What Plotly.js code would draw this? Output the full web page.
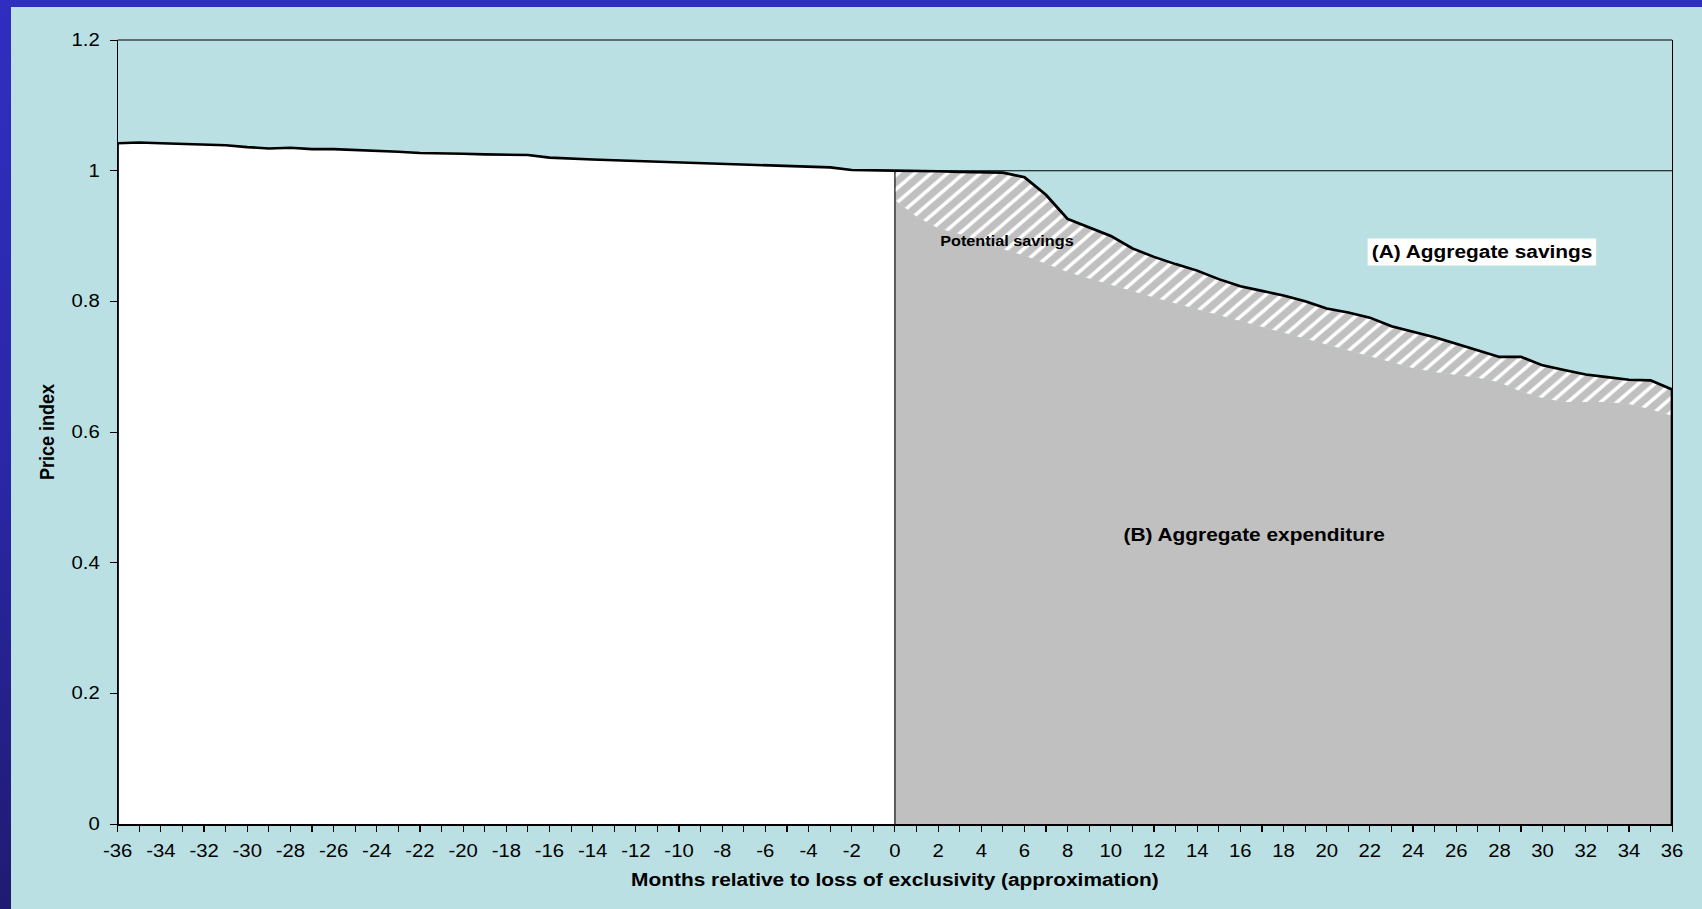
<!DOCTYPE html>
<html>
<head>
<meta charset="utf-8">
<script src="https://cdn.plot.ly/plotly-3.0.1.min.js"></script>
<style>
  html, body { margin: 0; padding: 0; width: 1702px; height: 909px; overflow: hidden; }
  body { background: linear-gradient(to bottom, #302EC0 0%, #2A27A8 50%, #1F1B72 100%); position: relative; }
  #wrap { position: absolute; left: 11px; top: 7px; width: 1691px; height: 902px; background: #BAE0E3; overflow: hidden; }
  #chart { position: absolute; left: 0; top: 0; width: 1458px; height: 902px; transform: scaleX(1.16); transform-origin: 0 0; }
</style>
</head>
<body>
<div id="wrap"><div id="chart"></div></div>
<script>
// Months before loss of exclusivity
const monthsBefore = [-36,-35,-34,-33,-32,-31,-30,-29,-28,-27,-26,-25,-24,-23,-22,-21,-20,-19,-18,-17,-16,-15,-14,-13,-12,-11,-10,-9,-8,-7,-6,-5,-4,-3,-2,-1,0];
const priceBefore = [1.042,1.043,1.042,1.041,1.040,1.039,1.036,1.034,1.035,1.033,1.033,1.032,1.031,1.029,1.027,1.027,1.026,1.025,1.025,1.024,1.020,1.018,1.017,1.016,1.015,1.014,1.012,1.011,1.011,1.010,1.009,1.008,1.007,1.005,1.001,1.001,1.000];

// Months after loss of exclusivity
const monthsAfter = [0,1,2,3,4,5,6,7,8,9,10,11,12,13,14,15,16,17,18,19,20,21,22,23,24,25,26,27,28,29,30,31,32,33,34,35,36];
const priceAfter = [1.000,1.000,0.999,0.998,0.997,0.997,0.990,0.963,0.926,0.913,0.900,0.881,0.868,0.857,0.847,0.834,0.823,0.816,0.809,0.800,0.789,0.783,0.775,0.762,0.754,0.745,0.735,0.725,0.715,0.715,0.702,0.695,0.688,0.684,0.680,0.679,0.665];
const potentialPrice = [0.955,0.930,0.912,0.903,0.892,0.880,0.870,0.858,0.845,0.835,0.826,0.816,0.806,0.797,0.789,0.780,0.771,0.762,0.753,0.744,0.735,0.726,0.716,0.707,0.698,0.692,0.688,0.683,0.676,0.662,0.652,0.646,0.646,0.646,0.643,0.635,0.625];

// Axis ticks
const xTickVals = [-36,-34,-32,-30,-28,-26,-24,-22,-20,-18,-16,-14,-12,-10,-8,-6,-4,-2,0,2,4,6,8,10,12,14,16,18,20,22,24,26,28,30,32,34,36];
const xTickText = ['-36','-34','-32','-30','-28','-26','-24','-22','-20','-18','-16','-14','-12','-10','-8','-6','-4','-2','0','2','4','6','8','10','12','14','16','18','20','22','24','26','28','30','32','34','36'];
const yTickVals = [0, 0.2, 0.4, 0.6, 0.8, 1, 1.2];
const yTickText = ['0', '0.2', '0.4', '0.6', '0.8', '1', '1.2'];

const bg = '#BAE0E3';
const grey = '#C0C0C0';
const font = 'Liberation Sans, Arial, sans-serif';

const firstX = monthsBefore[0];
const lastX = monthsAfter[monthsAfter.length - 1];
const lossX = monthsAfter[0];

const traces = [
  { x: monthsBefore, y: priceBefore, type: 'scatter', mode: 'lines', fill: 'tozeroy', fillcolor: '#FFFFFF',
    line: { color: '#000000', width: 2.6 }, hoverinfo: 'skip', showlegend: false },
  { x: monthsAfter, y: potentialPrice, type: 'scatter', mode: 'lines', fill: 'tozeroy', fillcolor: grey,
    line: { color: grey, width: 0 }, hoverinfo: 'skip', showlegend: false },
  { x: monthsAfter, y: priceAfter, type: 'scatter', mode: 'lines', fill: 'tonexty',
    fillpattern: { shape: '/', bgcolor: grey, fgcolor: '#FFFFFF', size: 10, solidity: 0.32 },
    line: { color: '#000000', width: 2.6 }, hoverinfo: 'skip', showlegend: false }
];

const layout = {
  width: 1458, height: 902,
  margin: { l: 92, r: 26, t: 32.5, b: 85.3, pad: 0 },
  paper_bgcolor: bg, plot_bgcolor: bg,
  font: { family: font, color: '#000000', size: 17.5 },
  showlegend: false,
  xaxis: {
    range: [firstX, lastX], tickvals: xTickVals, ticktext: xTickText, showgrid: false, zeroline: false,
    ticks: 'outside', ticklen: 6, tickwidth: 1, tickcolor: '#000000', ticklabelstandoff: 4,
    minor: { dtick: 1, ticks: 'outside', ticklen: 6, tickwidth: 1, tickcolor: '#000000', showgrid: false },
    showline: true, linecolor: '#000000', linewidth: 2, mirror: false,
    tickfont: { family: font, size: 17.5, color: '#000000' },
    title: { text: 'Months relative to loss of exclusivity (approximation)', font: { family: font, size: 18, color: '#000000', weight: 'bold' }, standoff: 13 },
    automargin: false, fixedrange: true
  },
  yaxis: {
    range: [0, 1.2], tickvals: yTickVals, ticktext: yTickText, showgrid: false, zeroline: false,
    ticks: 'outside', ticklen: 6, tickwidth: 1, tickcolor: '#000000', ticklabelstandoff: 5,
    showline: true, linecolor: '#000000', linewidth: 1, mirror: true,
    tickfont: { family: font, size: 17.5, color: '#000000' },
    title: { text: 'Price index', font: { family: font, size: 18, color: '#000000', weight: 'bold' }, standoff: 9 },
    automargin: false, fixedrange: true
  },
  shapes: [
    { type: 'line', xref: 'paper', yref: 'paper', x0: 0, x1: 1, y0: 1, y1: 1, line: { color: '#000000', width: 1 } },
    { type: 'line', xref: 'x', yref: 'y', x0: lossX, x1: lossX, y0: 0, y1: priceAfter[0], line: { color: '#000000', width: 1 } },
    { type: 'line', xref: 'x', yref: 'y', x0: lossX, x1: lastX, y0: priceAfter[0], y1: priceAfter[0], line: { color: '#000000', width: 1 } },
    { type: 'line', xref: 'x', yref: 'y', x0: firstX, x1: firstX, y0: 0, y1: priceBefore[0], line: { color: '#000000', width: 2 } },
    { type: 'line', xref: 'x', yref: 'y', x0: lastX, x1: lastX, y0: 0, y1: priceAfter[priceAfter.length - 1], line: { color: '#000000', width: 2.5 } }
  ],
  annotations: [
    { x: 5.19, y: 0.892, xref: 'x', yref: 'y', text: 'Potential savings', showarrow: false,
      font: { family: font, size: 14, color: '#000000', weight: 'bold' } },
    { x: 27.18, y: 0.8756, xref: 'x', yref: 'y', text: '(A) Aggregate savings', showarrow: false,
      bgcolor: '#FFFFFF', borderpad: 3, font: { family: font, size: 18, color: '#000000', weight: 'bold' } },
    { x: 16.62, y: 0.443, xref: 'x', yref: 'y', text: '(B) Aggregate expenditure', showarrow: false,
      font: { family: font, size: 18, color: '#000000', weight: 'bold' } }
  ]
};

Plotly.newPlot('chart', traces, layout, { staticPlot: true, displayModeBar: false });
</script>
</body>
</html>
